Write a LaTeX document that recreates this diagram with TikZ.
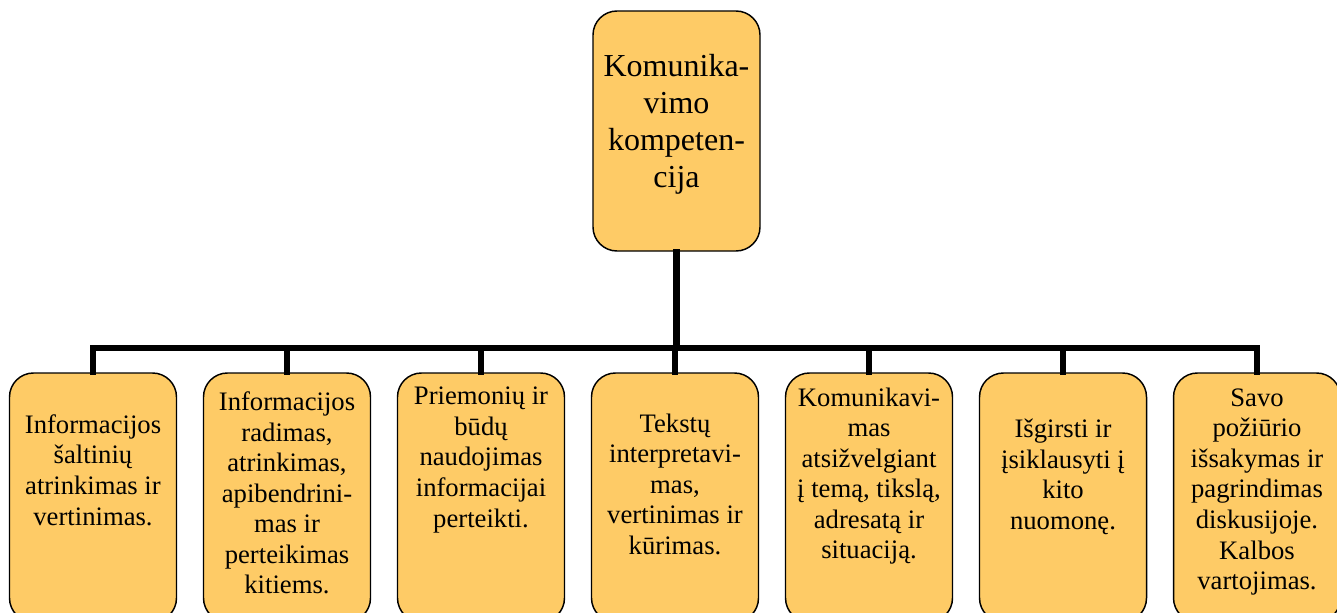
\documentclass[tikz,border=0pt]{standalone}
\usepackage{fontspec}
\setmainfont{Liberation Serif}
\definecolor{boxfill}{HTML}{FECB66}
\begin{document}
\begin{tikzpicture}[x=0.75pt,y=-0.75pt,
  box/.style={draw=black,line width=1.1pt,fill=boxfill,rounded corners=18pt,inner sep=0pt,minimum width=125.25pt},
  topbox/.style={box,minimum height=180pt},
  subbox/.style={box,minimum height=186.75pt},
  toptext/.style={align=center,font=\fontsize{24}{27.7}\selectfont,inner sep=0pt},
  subtext/.style={align=center,font=\fontsize{20}{22.9}\selectfont,inner sep=0pt},
  conn/.style={line width=4.6pt,line join=miter,line cap=rect}]
\useasboundingbox (0,0) rectangle (1337,613);
\clip (0,0) rectangle (1337,613);
\coordinate (bus) at (0,348);
\node[topbox] (top) at (676.5,131) {};
\node[toptext] (toptx) at (676.5,124) {Komunika-\\vimo\\kompeten-\\cija};
\foreach \i/\x in {1/93,2/287,3/481,4/675,5/869,6/1063,7/1257}
  \node[subbox] (b\i) at (\x,497.5) {};
\node[subtext] (t1) at (93,470) {Informacijos\\šaltinių\\atrinkimas ir\\vertinimas.};
\node[subtext] (t2) at (287,493) {Informacijos\\radimas,\\atrinkimas,\\apibendrini-\\mas ir\\perteikimas\\kitiems.};
\node[subtext] (t3) at (481,460) {Priemonių ir\\būdų\\naudojimas\\informacijai\\perteikti.};
\node[subtext] (t4) at (675,484) {Tekstų\\interpretavi-\\mas,\\vertinimas ir\\kūrimas.};
\node[subtext] (t5) at (869,476) {Komunikavi-\\mas\\atsižvelgiant\\į temą, tikslą,\\adresatą ir\\situaciją.};
\node[subtext] (t6) at (1063,477) {Išgirsti ir\\įsiklausyti į\\kito\\nuomonę.};
\node[subtext] (t7) at (1257,492) {Savo\\požiūrio\\išsakymas ir\\pagrindimas\\diskusijoje.\\Kalbos\\vartojimas.};
\draw[conn] (top.south) -- (top.south |- bus);
\draw[conn] (b1.north) -- (b1.north |- bus) -- (b7.north |- bus) -- (b7.north);
\foreach \i in {2,3,4,5,6}
  \draw[conn] (b\i.north |- bus) -- (b\i.north);
\end{tikzpicture}
\end{document}
